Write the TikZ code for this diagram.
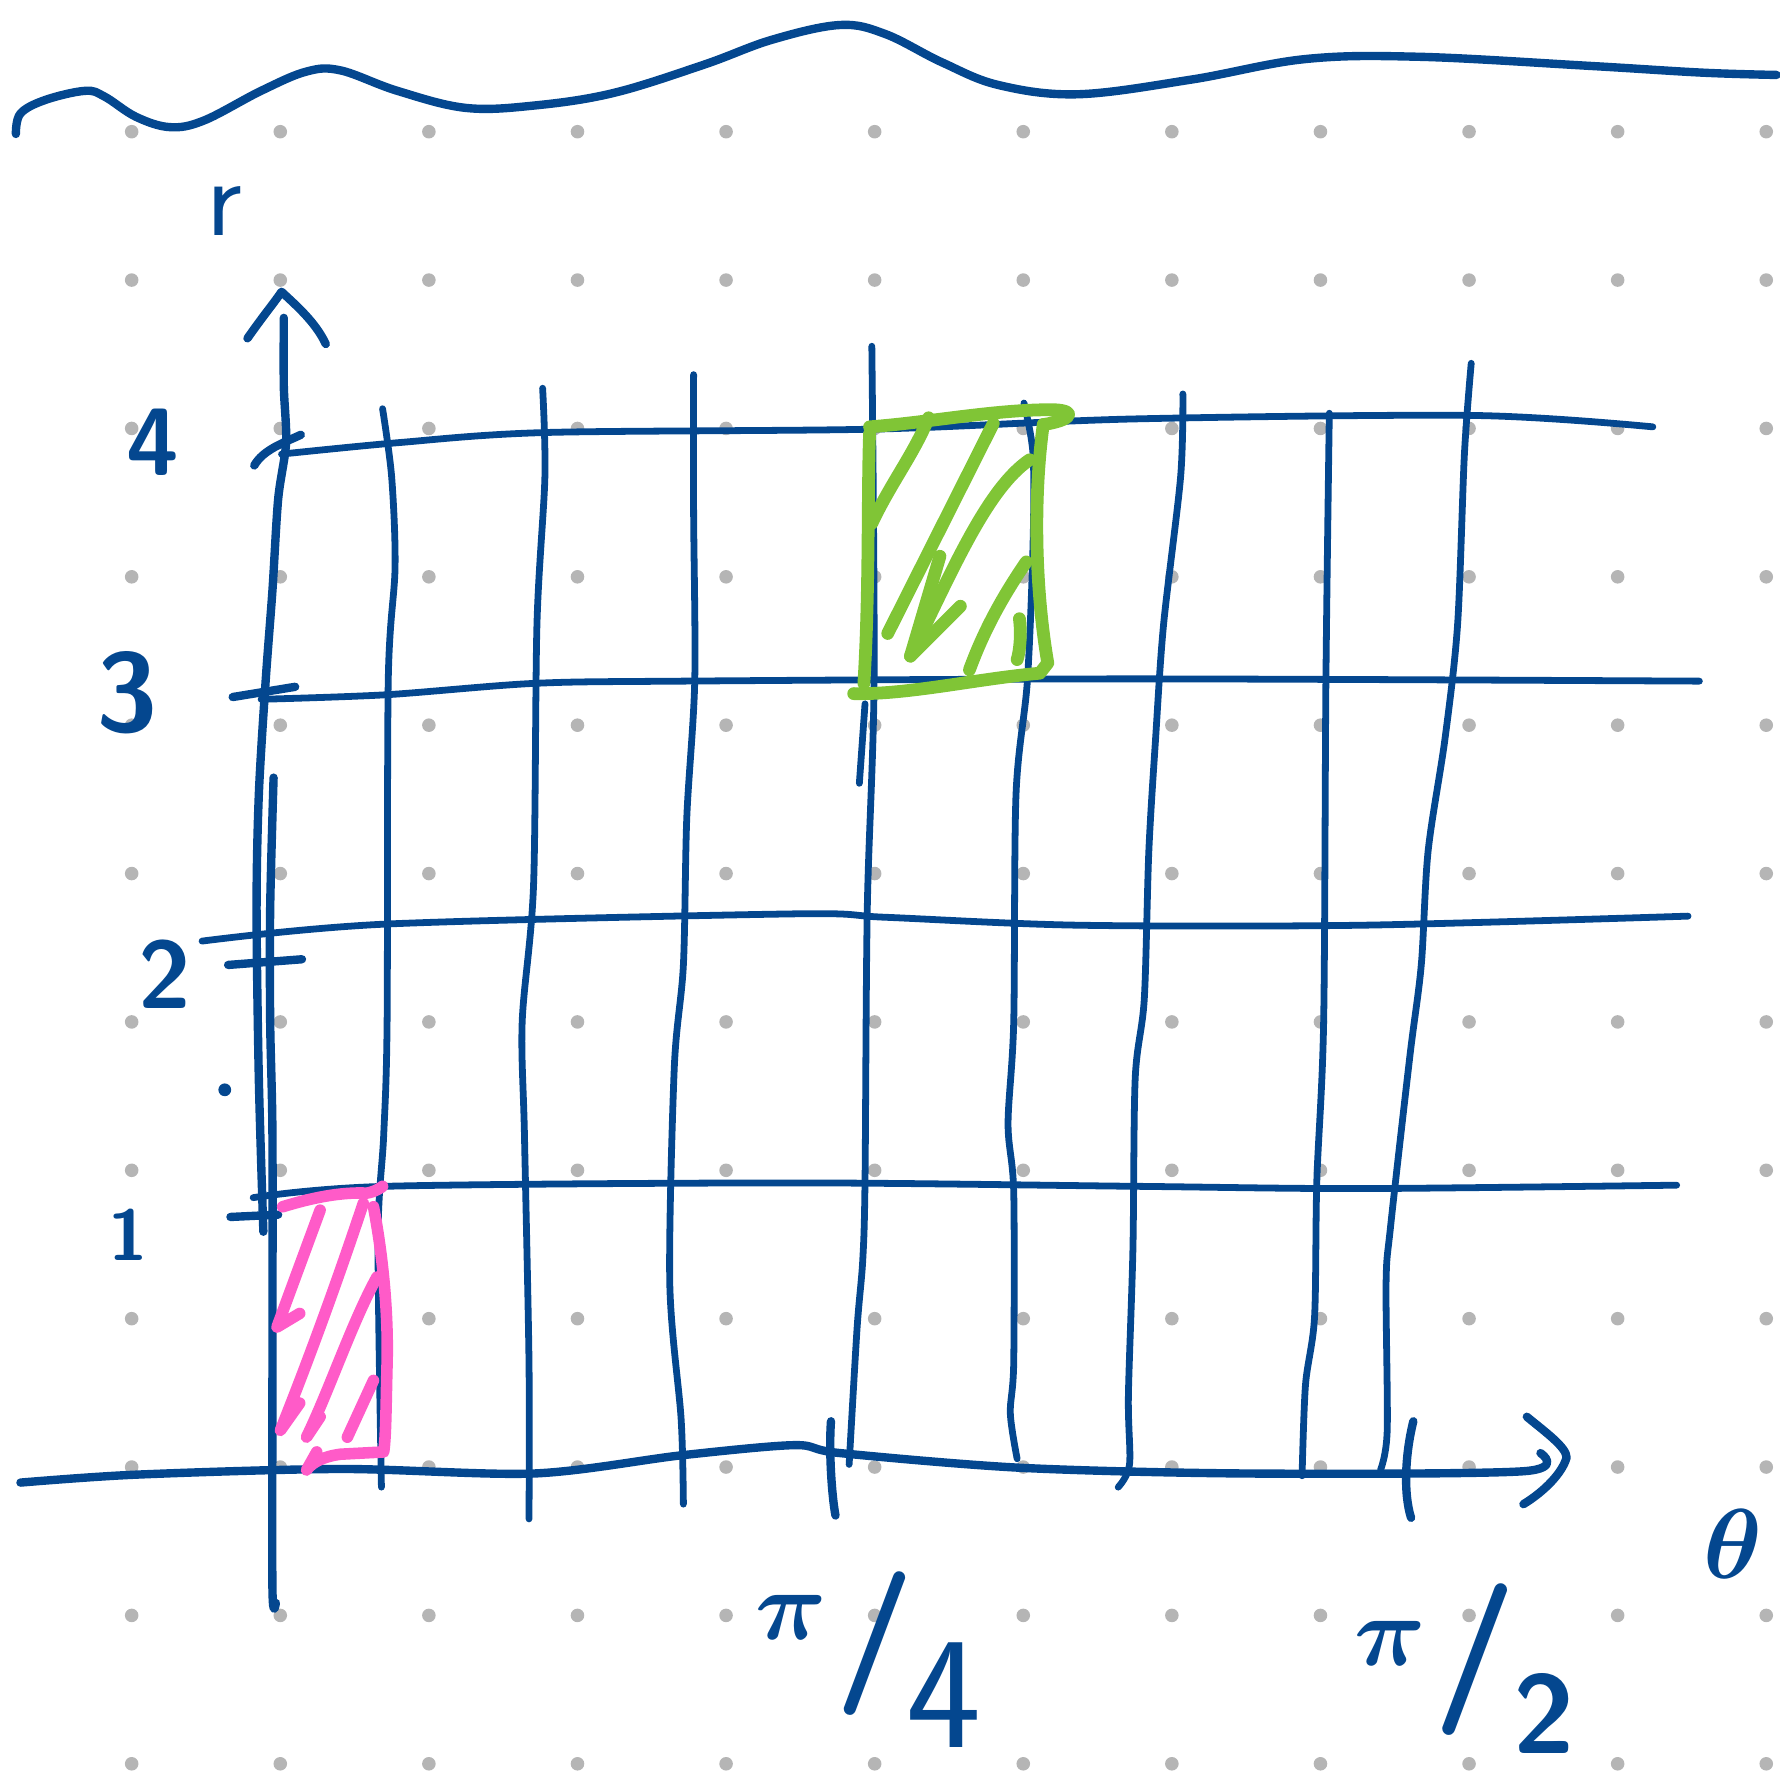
\documentclass[tikz,border=0pt]{standalone}
\usepackage{tikz}
\usepackage{bm}
\usetikzlibrary{calc}
\definecolor{inkblue}{RGB}{4,71,143}
\definecolor{dotgray}{RGB}{181,181,181}
\definecolor{hatchgreen}{RGB}{128,197,54}
\definecolor{hatchpink}{RGB}{255,91,200}

\begin{document}
\begin{tikzpicture}[
    x=0.01cm, y=-0.01cm,
    pen/.style={draw=inkblue, line width=1.5pt, line cap=round, line join=round},
    axisline/.style={pen, line width=2.1pt},
    gridline/.style={pen, line width=1.7pt},
    greenstroke/.style={draw=hatchgreen, line width=3.2pt, line cap=round, line join=round},
    pinkstroke/.style={draw=hatchpink, line width=2.9pt, line cap=round, line join=round},
    lbl/.style={text=inkblue, font=\sffamily\bfseries, inner sep=0pt},
]
    % === page and dot grid ===
    \useasboundingbox (0,0) rectangle (1568,1568);
    \foreach \i in {0,...,11}
        \foreach \j in {0,...,11}
            \fill[dotgray] (116+130.9*\i, 116+130.7*\j) circle[radius=1.7pt];

    % === wavy stroke at the top ===
    \draw[axisline] plot[smooth, tension=0.6] coordinates {(14,118) (18,100) (40,88) (75,80) (92,85) (120,103) (150,112) (180,106) (230,80) (270,63) (300,62) (350,80) (410,95) (470,93) (540,82) (620,57) (680,35) (740,22) (780,30) (830,55) (880,75) (950,83) (1050,70) (1150,52) (1250,50) (1400,58) (1500,64) (1565,66)};

    % === horizontal grid lines (r = 1..4) ===
    \draw[gridline] plot[smooth, tension=0.5] coordinates {(248,400) (350,390) (480,381) (770,378) (1000,369) (1300,366) (1456,376)};
    \draw[gridline] plot[smooth, tension=0.5] coordinates {(230,616) (340,612) (470,602) (600,600) (1000,598) (1497,600)};
    \draw[gridline] plot[smooth, tension=0.5] coordinates {(178,829) (340,814) (700,805) (780,808) (950,815) (1200,815) (1487,807)};
    \draw[gridline] plot[smooth, tension=0.5] coordinates {(223,1055) (340,1045) (700,1042) (1000,1045) (1200,1047) (1477,1044)};

    % === vertical grid lines ===
    \draw[gridline] plot[smooth, tension=0.5] coordinates {(337,360) (345,420) (348,500) (342,600) (341,900) (338,1000) (333,1090) (336,1310)};
    \draw[gridline] plot[smooth, tension=0.5] coordinates {(478,342) (480,420) (473,550) (470,780) (460,900) (462,1000) (466,1200) (466,1338)};
    \draw[gridline] plot[smooth, tension=0.5] coordinates {(611,330) (611,450) (612,600) (605,720) (602,850) (594,940) (590,1130) (600,1250) (602,1325)};
    \draw[gridline] plot[smooth, tension=0.5] coordinates {(768,305) (770,600) (764,800) (762,1040) (760,1110) (755,1170) (748,1290)};
    \draw[gridline] (762,620) -- (757,690);
    \draw[gridline] plot[smooth, tension=0.5] coordinates {(902,355) (910,400) (910,480) (905,600) (895,700) (893,900) (888,990) (893,1050) (893,1200) (890,1245) (896,1285)};
    \draw[gridline] plot[smooth, tension=0.5] coordinates {(1042,347) (1040,420) (1025,550) (1018,650) (1012,750) (1008,880) (1000,950) (998,1100) (994,1230) (995,1290) (985,1310)};
    \draw[gridline] plot[smooth, tension=0.5] coordinates {(1171,364) (1168,600) (1166,900) (1160,1040) (1158,1160) (1150,1220) (1147,1300)};
    \draw[gridline] plot[smooth, tension=0.5] coordinates {(1296,320) (1290,400) (1284,550) (1273,650) (1258,750) (1252,850) (1242,930) (1225,1080) (1221,1130) (1222,1260) (1216,1295)};

    % === r axis with its arrow and ticks ===
    \draw[axisline] plot[smooth, tension=0.5] coordinates {(250,280) (250,340) (252,390) (245,440) (240,520) (234,600) (228,700) (226,800) (228,950) (232,1085)};
    \draw[axisline] plot[smooth, tension=0.5] coordinates {(241,685) (238,800) (238,900) (240,1000) (240,1200) (240,1400) (243,1412)};
    \draw[axisline] (218,298) .. controls (232,278) and (242,266) .. (248,257) .. controls (262,270) and (278,284) .. (287,303);
    \draw[axisline] (224,410) .. controls (232,396) and (250,390) .. (265,383);
    \draw[axisline] (205,614) -- (260,605);
    \draw[axisline] (201,850) -- (266,845);
    \draw[axisline] (203,1072) -- (245,1070);
    \fill[inkblue] (198,960) circle[radius=1.6pt];

    % === theta axis with its arrow and ticks ===
    \draw[axisline] plot[smooth, tension=0.5] coordinates {(18,1306) (120,1299) (300,1294) (470,1298) (600,1282) (700,1273) (740,1280) (900,1293) (1100,1298) (1342,1296) (1357,1280)};
    \draw[axisline] (1345,1248) .. controls (1362,1262) and (1380,1275) .. (1380,1284) .. controls (1376,1298) and (1360,1314) .. (1342,1325);
    \draw[axisline] (732,1252) .. controls (730,1280) and (733,1320) .. (736,1335);
    \draw[axisline] (1245,1252) .. controls (1238,1280) and (1236,1315) .. (1243,1337);

    % === pink hatched cell ===
    \draw[pinkstroke] (249,1063) .. controls (275,1055) and (300,1050) .. (323,1051) .. controls (330,1050) and (336,1046) .. (337,1045);
    \draw[pinkstroke] (329,1063) .. controls (338,1110) and (342,1160) .. (341,1200) .. controls (340,1240) and (340,1265) .. (338,1279) -- (300,1281) .. controls (285,1283) and (275,1288) .. (270,1295) -- (279,1279);
    \draw[pinkstroke] (282,1066) -- (244,1169) -- (264,1157);
    \draw[pinkstroke] (320,1060) .. controls (300,1120) and (275,1190) .. (247,1260) -- (264,1236);
    \draw[pinkstroke] (332,1125) .. controls (310,1165) and (290,1225) .. (270,1266) -- (282,1248);
    \draw[pinkstroke] (329,1216) -- (306,1266);

    % === green hatched cell ===
    \draw[greenstroke] (766,376) .. controls (820,372) and (880,360) .. (930,361) .. controls (948,362) and (945,370) .. (919,374);
    \draw[greenstroke] (919,374) .. controls (910,440) and (912,520) .. (923,584) -- (916,593) .. controls (860,598) and (800,612) .. (752,611);
    \draw[greenstroke] (761,602) .. controls (766,520) and (764,440) .. (766,382);
    \draw[greenstroke] (768,461) .. controls (785,425) and (805,400) .. (818,368);
    \draw[greenstroke] (782,558) -- (875,373);
    \draw[greenstroke] (828,490) -- (802,578) -- (846,534);
    \draw[greenstroke] (802,578) .. controls (840,500) and (870,430) .. (907,405);
    \draw[greenstroke] (904,495) .. controls (880,530) and (865,560) .. (854,590);
    \draw[greenstroke] (898,545) .. controls (900,560) and (898,575) .. (896,581);

    % === labels ===
    \node[lbl, font=\sffamily\fontsize{28}{28}\selectfont] (rlabel) at (198,186) {r};
    \node[lbl, font=\sffamily\bfseries\fontsize{24}{24}\selectfont] (rfour) at (135,390) {4};
    \node[lbl, font=\sffamily\bfseries\fontsize{28}{28}\selectfont] (rthree) at (112,610) {3};
    \node[lbl, font=\sffamily\bfseries\fontsize{24}{24}\selectfont] (rtwo) at (145,858) {2};
    \node[lbl, font=\sffamily\bfseries\fontsize{18}{18}\selectfont] (rone) at (113,1088) {1};
    \node[lbl, font=\fontsize{34}{34}\selectfont] (thetalabel) at (1527,1360) {$\bm{\theta}$};
    \node[lbl] (piquarter) at (765,1462)
        {\fontsize{32}{32}\selectfont\raisebox{21pt}{$\bm{\pi}$}\kern2pt\fontsize{36}{36}\selectfont\raisebox{11pt}{/}\kern-2pt\fontsize{40}{40}\mdseries\raisebox{-6pt}{4}};
    \node[lbl] (pihalf) at (1290,1470)
        {\fontsize{26}{26}\selectfont\raisebox{13pt}{$\bm{\pi}$}\kern2pt\fontsize{38}{38}\selectfont\raisebox{5pt}{/}\kern-1pt\raisebox{-9pt}{\fontsize{28}{28}\selectfont 2}};
\end{tikzpicture}
\end{document}
